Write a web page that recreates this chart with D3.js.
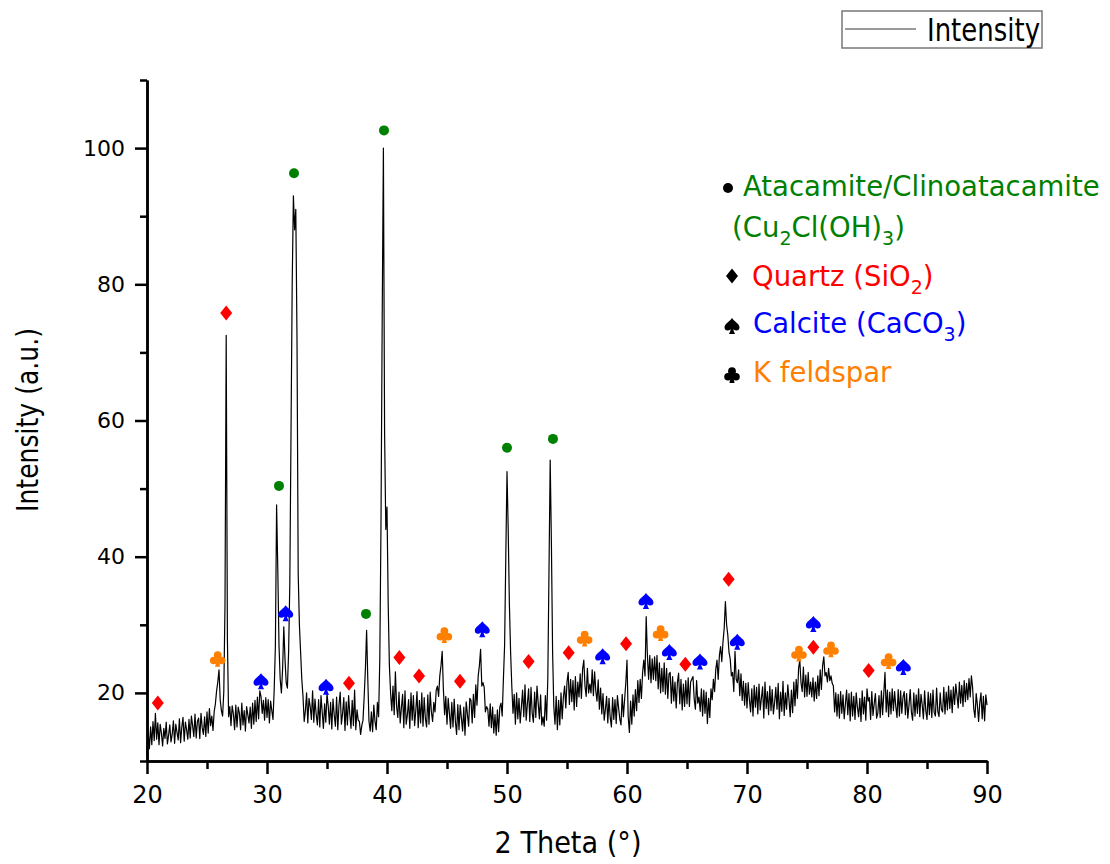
<!DOCTYPE html>
<html>
<head>
<meta charset="utf-8">
<script src="https://cdn.jsdelivr.net/npm/d3@7"></script>
<style>
  body { margin: 0; background: #fff; }
  svg { display: block; font-family: "DejaVu Sans", sans-serif; }
</style>
</head>
<body>
<div class="xrdDiv"></div>
<script>
"use strict";

// scan grid: 2 theta from 20, one reading every 0.1 deg
var thetaStart = 20;
var thetaStep = 0.1;

// intensity (a.u.), one row = one degree
var intensity = [
  11.0,14.2,11.8,15.0,12.4,15.8,13.0,17.0,13.2,15.6,
  12.4,15.4,14.1,12.2,14.8,13.3,15.7,12.5,13.8,15.3,
  12.8,13.9,15.9,12.6,15.4,14.2,13.1,16.2,12.7,15.0,
  16.4,12.9,15.7,14.6,13.2,16.1,13.4,16.6,15.2,13.6,
  16.9,13.4,15.8,16.3,13.3,17.0,14.9,13.9,16.5,13.6,
  17.2,14.1,17.7,15.2,16.6,14.5,17.3,18.4,20.3,21.6,
  23.4,19.0,17.4,16.6,20.2,33.0,72.5,28.0,16.5,18.0,
  15.2,18.1,16.9,14.6,18.2,15.0,17.9,17.0,14.6,18.5,
  15.3,17.4,14.4,18.0,16.8,15.6,17.9,14.8,18.5,15.4,
  18.9,15.8,19.4,16.2,20.3,19.5,17.0,18.9,16.0,19.3,
  16.4,19.0,15.6,18.8,17.4,16.1,20.5,27.0,47.6,38.0,
  27.0,22.0,20.0,23.5,29.7,25.0,21.5,20.7,26.0,36.0,
  58.0,80.0,93.0,88.0,91.0,72.0,37.5,30.0,26.0,22.0,
  19.5,15.8,17.4,20.0,15.6,19.2,18.0,16.1,20.3,15.7,
  19.1,16.8,15.3,19.0,15.0,19.6,17.2,14.8,18.4,15.7,
  19.9,18.1,15.4,18.6,14.7,19.1,16.8,15.1,19.4,14.6,
  18.3,20.1,15.4,17.0,19.3,14.5,18.7,15.3,19.6,16.9,
  14.8,18.9,15.2,20.4,14.6,17.5,16.0,15.8,13.9,15.2,
  16.0,19.5,23.5,29.2,22.0,15.8,14.4,17.2,14.3,18.2,
  15.8,14.6,18.6,16.5,25.0,45.0,75.0,100.0,58.0,44.0,
  47.3,33.0,24.0,20.0,17.4,21.0,16.8,23.1,18.0,16.4,
  20.1,15.6,17.8,19.8,14.9,20.3,15.4,16.8,19.0,14.8,
  20.0,16.0,19.6,15.2,17.4,20.2,14.9,18.9,15.6,20.0,
  15.1,19.3,16.2,15.0,19.7,15.4,20.1,17.2,15.8,18.6,
  17.2,20.4,21.0,19.5,22.5,24.0,26.1,20.5,16.8,19.5,
  15.4,19.2,17.0,14.8,18.6,15.0,19.1,15.8,13.9,18.3,
  14.6,18.2,16.3,14.4,17.9,13.8,18.7,16.9,15.1,19.2,
  18.9,15.6,19.8,16.4,21.2,18.2,22.5,24.0,26.4,21.0,
  21.5,20.8,17.2,18.0,17.6,15.1,18.4,14.9,17.9,14.1,
  16.8,13.8,17.5,14.3,17.9,18.5,16.6,22.0,27.0,40.0,
  52.5,44.0,33.0,26.0,21.0,17.0,19.8,15.4,20.0,16.2,
  19.2,15.6,18.0,20.4,16.5,21.2,16.0,18.4,20.6,15.8,
  20.8,17.0,15.7,20.1,16.4,21.0,18.5,16.2,19.7,15.3,
  16.5,15.1,19.6,16.0,22.0,38.0,54.2,42.0,26.0,18.0,
  15.4,19.5,14.6,18.9,15.3,20.0,16.2,19.4,21.0,17.8,
  21.6,23.0,18.3,22.0,18.7,21.8,17.5,22.4,18.0,21.6,
  19.4,22.8,19.2,23.5,24.8,21.0,19.5,23.6,20.0,21.3,
  20.0,23.4,19.6,23.1,20.3,18.8,21.9,17.6,20.7,16.9,
  19.9,16.0,17.6,19.5,15.6,19.2,16.4,15.0,19.3,16.1,
  19.0,15.5,19.6,17.8,16.2,15.3,19.8,16.5,19.0,21.5,
  24.8,16.5,14.2,18.8,15.4,19.7,16.6,20.5,17.4,21.8,
  18.6,22.0,19.2,23.0,24.8,22.5,31.2,25.5,22.0,25.5,
  21.5,25.0,22.0,25.3,21.8,25.5,20.6,24.4,20.0,23.6,
  20.2,24.4,19.8,23.6,19.2,22.8,23.0,18.5,22.4,18.8,
  21.6,17.8,21.5,22.9,18.4,22.0,17.5,21.3,18.0,21.8,
  18.4,22.2,18.0,21.6,22.0,22.4,19.1,17.6,21.8,18.5,
  19.4,17.3,20.6,16.6,20.4,17.0,20.1,15.5,19.2,16.4,
  20.6,19.0,22.0,20.2,23.5,24.8,22.0,25.5,26.8,24.6,
  27.5,29.5,33.4,30.0,28.5,26.0,25.0,22.5,23.0,20.2,
  26.1,22.0,21.5,23.4,19.6,22.8,18.9,21.7,18.2,21.4,
  17.8,21.5,19.0,17.2,20.6,16.6,21.1,17.9,20.8,16.9,
  21.3,17.5,19.2,20.9,16.3,21.6,17.7,20.2,16.8,21.0,
  17.4,20.5,16.9,18.6,20.8,17.6,21.4,16.2,20.1,17.3,
  21.7,16.7,20.0,17.6,21.2,19.0,16.5,20.4,17.1,21.6,
  18.1,22.0,19.2,23.6,24.8,21.5,20.2,23.8,19.4,22.6,
  19.5,23.0,19.8,21.6,19.4,22.2,18.8,21.6,19.2,22.5,
  19.6,23.4,20.5,24.0,25.3,22.5,23.0,21.6,23.6,21.8,
  22.5,21.4,21.0,17.2,20.0,16.6,19.8,16.3,20.2,17.0,
  19.7,16.2,18.4,20.4,16.8,19.9,15.9,20.1,16.6,19.5,
  16.1,20.0,17.9,16.5,19.2,15.8,20.3,16.9,19.4,16.0,
  20.6,18.8,19.3,16.1,20.2,16.7,18.4,19.9,16.3,17.0,
  19.6,16.4,20.3,16.8,20.0,23.0,17.2,20.4,16.5,20.1,
  16.9,20.6,17.4,20.2,18.0,16.4,20.5,16.6,20.3,17.0,
  19.4,20.2,16.8,19.9,16.3,18.2,20.5,17.2,16.0,20.0,
  16.6,19.7,17.0,20.6,16.5,19.8,18.3,16.2,20.3,17.4,
  16.1,20.1,16.8,19.9,16.4,20.4,17.1,16.6,20.7,17.3,
  16.5,20.0,17.6,17.2,20.8,16.9,20.1,17.5,21.0,17.7,
  20.4,17.1,20.9,18.3,21.3,19.6,17.8,21.6,18.5,21.1,
  18.0,21.8,18.7,21.4,19.0,22.1,19.4,22.5,20.8,17.6,
  16.4,19.9,18.2,15.8,18.6,20.0,16.2,19.5,15.9,19.7,
  18.2
];

// phase markers: 2 theta and the height the marker sits at
var atacamiteX = [31.0, 32.25, 38.25, 39.75, 50.0, 53.83];
var atacamiteY = [50.4, 96.3, 31.6, 102.6, 56.0, 57.3];

var quartzX = [20.9, 26.6, 36.83, 41.03, 42.67, 46.08, 51.8, 55.14, 59.92, 64.86, 68.47, 75.53, 80.14];
var quartzY = [18.5, 75.8, 21.4, 25.2, 22.5, 21.7, 24.6, 25.9, 27.2, 24.2, 36.7, 26.7, 23.3];

var calciteX = [29.5, 31.56, 34.92, 47.94, 57.97, 61.58, 63.53, 66.08, 69.19, 75.53, 83.03];
var calciteY = [21.7, 31.7, 20.9, 29.35, 25.4, 33.5, 26.0, 24.6, 27.5, 30.1, 23.8];

var feldsparX = [25.89, 44.78, 56.47, 62.8, 74.33, 77.0, 81.8];
var feldsparY = [25.0, 28.5, 28.0, 28.8, 25.8, 26.4, 24.7];

// axis ticks
var xTicks = [20, 30, 40, 50, 60, 70, 80, 90];
var xMinorTicks = [25, 35, 45, 55, 65, 75, 85];
var yTicks = [20, 40, 60, 80, 100];
var yMinorTicks = [10, 30, 50, 70, 90, 110];

var phaseNames = ["Atacamite/Clinoatacamite", "Quartz (SiO", "Calcite (CaCO", "K feldspar"];
var phaseColors = ["#008000", "#ff0000", "#0000ff", "#ff8000"];

var W = 1110, H = 864;
var margin = {top: 80, right: 123, bottom: 103, left: 147};

var svg = d3.select(".xrdDiv").append("svg")
    .attr("width", W)
    .attr("height", H);

svg.append("rect").attr("width", W).attr("height", H).attr("fill", "#fff");

var x = d3.scaleLinear()
    .domain([20, 90])
    .range([margin.left, W - margin.right]);

var y = d3.scaleLinear()
    .domain([10, 110])
    .range([H - margin.bottom, margin.top]);

// marker shapes
function diamondPath() {
  return "M0,-7.5L6,0L0,7.5L-6,0Z";
}
function spadePath() {
  return "M0,-8C1.5,-5 7.5,-2.5 7.5,1.5C7.5,4.5 4,5.5 1.3,3.2C1.5,5 2.3,6.5 3.2,8L-3.2,8C-2.3,6.5 -1.5,5 -1.3,3.2C-4,5.5 -7.5,4.5 -7.5,1.5C-7.5,-2.5 -1.5,-5 0,-8Z";
}
function drawClub(g, color) {
  // three lobes + stem
  g.append("circle").attr("cx", 0).attr("cy", -3.8).attr("r", 3.9).attr("fill", color);
  g.append("circle").attr("cx", -4.0).attr("cy", 1.7).attr("r", 3.8).attr("fill", color);
  g.append("circle").attr("cx", 4.0).attr("cy", 1.7).attr("r", 3.8).attr("fill", color);
  g.append("path").attr("d", "M0,-1L-2.5,2L2.5,2Z").attr("fill", color);
  g.append("path").attr("d", "M-0.8,1L-2.6,8L2.6,8L0.8,1Z").attr("fill", color);
}

// the pattern
var line = d3.line()
    .x(function(d, i) { return x(thetaStart + i * thetaStep); })
    .y(function(d) { return y(d); });

svg.append("path")
    .datum(intensity)
    .attr("fill", "none")
    .attr("stroke", "#000")
    .attr("stroke-width", 1.2)
    .attr("stroke-linejoin", "round")
    .attr("d", line);

// axes
var xAxis = svg.append("g")
    .attr("transform", "translate(0," + y(10) + ")")
    .call(d3.axisBottom(x).tickValues(xTicks).tickSize(13).tickSizeOuter(0).tickPadding(12));
svg.append("g")
    .attr("transform", "translate(0," + y(10) + ")")
    .call(d3.axisBottom(x).tickValues(xMinorTicks).tickSize(8).tickSizeOuter(0).tickFormat(""));

var yAxis = svg.append("g")
    .attr("transform", "translate(" + x(20) + ",0)")
    .call(d3.axisLeft(y).tickValues(yTicks).tickSize(12).tickSizeOuter(0).tickPadding(10));
svg.append("g")
    .attr("transform", "translate(" + x(20) + ",0)")
    .call(d3.axisLeft(y).tickValues(yMinorTicks).tickSize(7).tickSizeOuter(0).tickFormat(""));

svg.selectAll(".domain, .tick line")
    .attr("stroke", "#000")
    .attr("stroke-width", 2.5);

xAxis.selectAll("text")
    .attr("font-family", "DejaVu Sans")
    .attr("font-size", 24)
    .attr("fill", "#000");
yAxis.selectAll("text")
    .attr("font-family", "DejaVu Sans")
    .attr("font-size", 22)
    .attr("fill", "#000");

// axis titles
svg.append("text")
    .attr("x", 568)
    .attr("y", 853)
    .attr("text-anchor", "middle")
    .attr("font-size", 31)
    .attr("textLength", 147)
    .attr("lengthAdjust", "spacingAndGlyphs")
    .text("2 Theta (°)");

svg.append("text")
    .attr("transform", "translate(38,420) rotate(-90)")
    .attr("text-anchor", "middle")
    .attr("font-size", 31)
    .attr("textLength", 184)
    .attr("lengthAdjust", "spacingAndGlyphs")
    .text("Intensity (a.u.)");

// phase markers on the pattern
svg.append("g").selectAll("circle")
    .data(d3.zip(atacamiteX, atacamiteY))
    .join("circle")
    .attr("cx", function(d) { return x(d[0]); })
    .attr("cy", function(d) { return y(d[1]); })
    .attr("r", 5)
    .attr("fill", phaseColors[0]);

svg.append("g").selectAll("path")
    .data(d3.zip(quartzX, quartzY))
    .join("path")
    .attr("d", diamondPath())
    .attr("transform", function(d) { return "translate(" + x(d[0]) + "," + y(d[1]) + ")"; })
    .attr("fill", phaseColors[1]);

svg.append("g").selectAll("path")
    .data(d3.zip(calciteX, calciteY))
    .join("path")
    .attr("d", spadePath())
    .attr("transform", function(d) { return "translate(" + x(d[0]) + "," + y(d[1]) + ")"; })
    .attr("fill", phaseColors[2]);

svg.append("g").selectAll("g")
    .data(d3.zip(feldsparX, feldsparY))
    .join("g")
    .attr("transform", function(d) { return "translate(" + x(d[0]) + "," + y(d[1]) + ")"; })
    .each(function() { drawClub(d3.select(this), phaseColors[3]); });

// phase key (black symbols, coloured names)
var key = svg.append("g").attr("font-size", 27.5);

key.append("circle").attr("cx", 728).attr("cy", 188).attr("r", 5).attr("fill", "#000");
key.append("text").attr("x", 743).attr("y", 196).attr("fill", phaseColors[0]).text(phaseNames[0]);
var t2 = key.append("text").attr("x", 732).attr("y", 237).attr("fill", phaseColors[0]);
t2.append("tspan").text("(Cu");
t2.append("tspan").attr("dy", 8).attr("font-size", 19).text("2");
t2.append("tspan").attr("dy", -8).text("Cl(OH)");
t2.append("tspan").attr("dy", 8).attr("font-size", 19).text("3");
t2.append("tspan").attr("dy", -8).text(")");

key.append("path").attr("d", diamondPath()).attr("transform", "translate(732,276)").attr("fill", "#000");
var t3 = key.append("text").attr("x", 752).attr("y", 286).attr("fill", phaseColors[1]);
t3.append("tspan").text(phaseNames[1]);
t3.append("tspan").attr("dy", 8).attr("font-size", 19).text("2");
t3.append("tspan").attr("dy", -8).text(")");

key.append("path").attr("d", spadePath()).attr("transform", "translate(732,326)").attr("fill", "#000");
var t4 = key.append("text").attr("x", 753).attr("y", 333).attr("fill", phaseColors[2]);
t4.append("tspan").text(phaseNames[2]);
t4.append("tspan").attr("dy", 8).attr("font-size", 19).text("3");
t4.append("tspan").attr("dy", -8).text(")");

drawClub(key.append("g").attr("transform", "translate(732,375)"), "#000");
key.append("text").attr("x", 753).attr("y", 382).attr("fill", phaseColors[3]).text(phaseNames[3]);

// series legend, top right
var legend = svg.append("g");
legend.append("rect")
    .attr("x", 842).attr("y", 11)
    .attr("width", 200).attr("height", 37)
    .attr("fill", "#fff")
    .attr("stroke", "#777")
    .attr("stroke-width", 1.5);
legend.append("line")
    .attr("x1", 845).attr("x2", 916)
    .attr("y1", 29).attr("y2", 29)
    .attr("stroke", "#777")
    .attr("stroke-width", 1.5);
legend.append("text")
    .attr("x", 927).attr("y", 41)
    .attr("font-size", 32)
    .attr("textLength", 113)
    .attr("lengthAdjust", "spacingAndGlyphs")
    .text("Intensity");
</script>
</body>
</html>
